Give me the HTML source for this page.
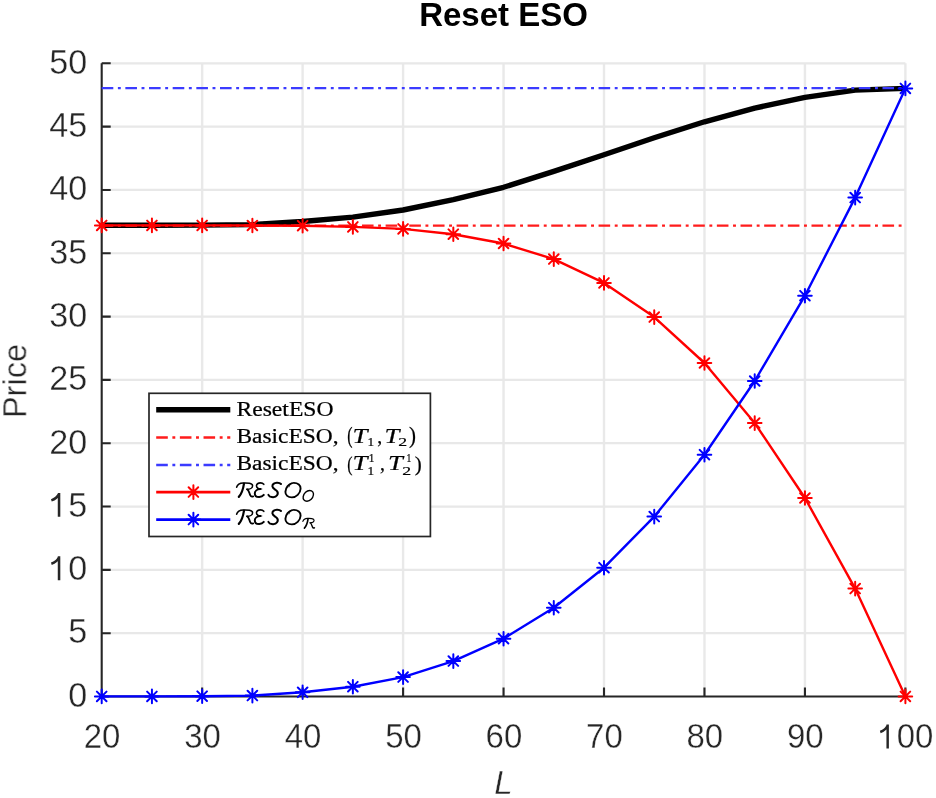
<!DOCTYPE html>
<html><head><meta charset="utf-8"><style>
html,body{margin:0;padding:0;background:#fff;}
svg{display:block;}
</style></head><body>
<svg width="936" height="798" viewBox="0 0 936 798">
<defs><filter id="bl" x="0" y="0" width="1" height="1"><feGaussianBlur stdDeviation="0.45"/></filter></defs>
<g filter="url(#bl)">
<rect width="936" height="798" fill="#fff"/>
<path d="M202.16,63.30V696.50M302.62,63.30V696.50M403.09,63.30V696.50M503.55,63.30V696.50M604.01,63.30V696.50M704.47,63.30V696.50M804.94,63.30V696.50M905.40,63.30V696.50" stroke="#e9e9e9" stroke-width="2.4" fill="none"/>
<path d="M101.70,633.18H905.40M101.70,569.86H905.40M101.70,506.54H905.40M101.70,443.22H905.40M101.70,379.90H905.40M101.70,316.58H905.40M101.70,253.26H905.40M101.70,189.94H905.40M101.70,126.62H905.40M101.70,63.30H905.40" stroke="#e8e8e8" stroke-width="2.2" fill="none"/>
<path d="M101.70,63.30V696.50H905.40M101.70,696.50v-9M202.16,696.50v-9M302.62,696.50v-9M403.09,696.50v-9M503.55,696.50v-9M604.01,696.50v-9M704.47,696.50v-9M804.94,696.50v-9M905.40,696.50v-9M101.70,696.50h9M101.70,633.18h9M101.70,569.86h9M101.70,506.54h9M101.70,443.22h9M101.70,379.90h9M101.70,316.58h9M101.70,253.26h9M101.70,189.94h9M101.70,126.62h9M101.70,63.30h9" stroke="#262626" stroke-width="2.1" fill="none"/>
<polyline points="101.70,225.30 151.93,225.30 202.16,225.10 252.39,224.60 302.62,221.50 352.86,217.10 403.09,210.00 453.32,199.70 503.55,187.30 553.78,171.40 604.01,154.80 654.24,137.70 704.47,121.80 754.71,108.10 804.94,97.40 855.17,90.10 905.40,88.40" stroke="#000" stroke-width="5.4" fill="none" stroke-linejoin="round"/>
<path d="M101.70,225.53H905.40" stroke="#ff1a1a" stroke-width="2.3" stroke-dasharray="11.6 4.58 2.9 4.58" fill="none"/>
<path d="M101.70,88.12H905.40" stroke="#3a3aff" stroke-width="2.3" stroke-dasharray="11.6 4.58 2.9 4.58" fill="none"/>
<polyline points="101.70,225.40 151.93,225.40 202.16,225.40 252.39,225.50 302.62,225.70 352.86,226.90 403.09,228.90 453.32,234.20 503.55,243.50 553.78,259.10 604.01,282.90 654.24,317.10 704.47,363.00 754.71,423.10 804.94,498.00 855.17,588.60 905.40,696.40" stroke="#ff0000" stroke-width="2.4" fill="none" stroke-linejoin="round"/>
<path d="M94.90,225.40h13.6M101.70,218.60v13.6M96.90,220.60l9.6,9.6M96.90,230.20l9.6,-9.6M145.13,225.40h13.6M151.93,218.60v13.6M147.13,220.60l9.6,9.6M147.13,230.20l9.6,-9.6M195.36,225.40h13.6M202.16,218.60v13.6M197.36,220.60l9.6,9.6M197.36,230.20l9.6,-9.6M245.59,225.50h13.6M252.39,218.70v13.6M247.59,220.70l9.6,9.6M247.59,230.30l9.6,-9.6M295.82,225.70h13.6M302.62,218.90v13.6M297.82,220.90l9.6,9.6M297.82,230.50l9.6,-9.6M346.06,226.90h13.6M352.86,220.10v13.6M348.06,222.10l9.6,9.6M348.06,231.70l9.6,-9.6M396.29,228.90h13.6M403.09,222.10v13.6M398.29,224.10l9.6,9.6M398.29,233.70l9.6,-9.6M446.52,234.20h13.6M453.32,227.40v13.6M448.52,229.40l9.6,9.6M448.52,239.00l9.6,-9.6M496.75,243.50h13.6M503.55,236.70v13.6M498.75,238.70l9.6,9.6M498.75,248.30l9.6,-9.6M546.98,259.10h13.6M553.78,252.30v13.6M548.98,254.30l9.6,9.6M548.98,263.90l9.6,-9.6M597.21,282.90h13.6M604.01,276.10v13.6M599.21,278.10l9.6,9.6M599.21,287.70l9.6,-9.6M647.44,317.10h13.6M654.24,310.30v13.6M649.44,312.30l9.6,9.6M649.44,321.90l9.6,-9.6M697.67,363.00h13.6M704.47,356.20v13.6M699.67,358.20l9.6,9.6M699.67,367.80l9.6,-9.6M747.91,423.10h13.6M754.71,416.30v13.6M749.91,418.30l9.6,9.6M749.91,427.90l9.6,-9.6M798.14,498.00h13.6M804.94,491.20v13.6M800.14,493.20l9.6,9.6M800.14,502.80l9.6,-9.6M848.37,588.60h13.6M855.17,581.80v13.6M850.37,583.80l9.6,9.6M850.37,593.40l9.6,-9.6M898.60,696.40h13.6M905.40,689.60v13.6M900.60,691.60l9.6,9.6M900.60,701.20l9.6,-9.6" stroke="#ff0000" stroke-width="2.0" stroke-linecap="round" fill="none"/>
<polyline points="101.70,696.40 151.93,696.40 202.16,696.20 252.39,695.60 302.62,692.30 352.86,686.70 403.09,677.10 453.32,661.10 503.55,638.70 553.78,607.70 604.01,567.70 654.24,516.60 704.47,454.70 754.71,381.00 804.94,295.70 855.17,197.60 905.40,88.40" stroke="#0000ff" stroke-width="2.4" fill="none" stroke-linejoin="round"/>
<path d="M94.90,696.40h13.6M101.70,689.60v13.6M96.90,691.60l9.6,9.6M96.90,701.20l9.6,-9.6M145.13,696.40h13.6M151.93,689.60v13.6M147.13,691.60l9.6,9.6M147.13,701.20l9.6,-9.6M195.36,696.20h13.6M202.16,689.40v13.6M197.36,691.40l9.6,9.6M197.36,701.00l9.6,-9.6M245.59,695.60h13.6M252.39,688.80v13.6M247.59,690.80l9.6,9.6M247.59,700.40l9.6,-9.6M295.82,692.30h13.6M302.62,685.50v13.6M297.82,687.50l9.6,9.6M297.82,697.10l9.6,-9.6M346.06,686.70h13.6M352.86,679.90v13.6M348.06,681.90l9.6,9.6M348.06,691.50l9.6,-9.6M396.29,677.10h13.6M403.09,670.30v13.6M398.29,672.30l9.6,9.6M398.29,681.90l9.6,-9.6M446.52,661.10h13.6M453.32,654.30v13.6M448.52,656.30l9.6,9.6M448.52,665.90l9.6,-9.6M496.75,638.70h13.6M503.55,631.90v13.6M498.75,633.90l9.6,9.6M498.75,643.50l9.6,-9.6M546.98,607.70h13.6M553.78,600.90v13.6M548.98,602.90l9.6,9.6M548.98,612.50l9.6,-9.6M597.21,567.70h13.6M604.01,560.90v13.6M599.21,562.90l9.6,9.6M599.21,572.50l9.6,-9.6M647.44,516.60h13.6M654.24,509.80v13.6M649.44,511.80l9.6,9.6M649.44,521.40l9.6,-9.6M697.67,454.70h13.6M704.47,447.90v13.6M699.67,449.90l9.6,9.6M699.67,459.50l9.6,-9.6M747.91,381.00h13.6M754.71,374.20v13.6M749.91,376.20l9.6,9.6M749.91,385.80l9.6,-9.6M798.14,295.70h13.6M804.94,288.90v13.6M800.14,290.90l9.6,9.6M800.14,300.50l9.6,-9.6M848.37,197.60h13.6M855.17,190.80v13.6M850.37,192.80l9.6,9.6M850.37,202.40l9.6,-9.6M898.60,88.40h13.6M905.40,81.60v13.6M900.60,83.60l9.6,9.6M900.60,93.20l9.6,-9.6" stroke="#0000ff" stroke-width="2.0" stroke-linecap="round" fill="none"/>
<g font-family="Liberation Sans, sans-serif" font-size="33" fill="#262626" stroke="#fff" stroke-width="0.35"><g transform="translate(102.10,748.40) scale(1.0,1.04)"><text x="-18.35" y="0">2</text><text x="0.00" y="0">0</text></g><g transform="translate(202.56,748.40) scale(1.0,1.04)"><text x="-18.35" y="0">3</text><text x="0.00" y="0">0</text></g><g transform="translate(303.02,748.40) scale(1.0,1.04)"><text x="-18.35" y="0">4</text><text x="0.00" y="0">0</text></g><g transform="translate(403.49,748.40) scale(1.0,1.04)"><text x="-18.35" y="0">5</text><text x="0.00" y="0">0</text></g><g transform="translate(503.95,748.40) scale(1.0,1.04)"><text x="-18.35" y="0">6</text><text x="0.00" y="0">0</text></g><g transform="translate(604.41,748.40) scale(1.0,1.04)"><text x="-18.35" y="0">7</text><text x="0.00" y="0">0</text></g><g transform="translate(704.87,748.40) scale(1.0,1.04)"><text x="-18.35" y="0">8</text><text x="0.00" y="0">0</text></g><g transform="translate(805.34,748.40) scale(1.0,1.04)"><text x="-18.35" y="0">9</text><text x="0.00" y="0">0</text></g><g transform="translate(905.80,748.40) scale(1.0,1.04)"><text x="-9.18" y="0">0</text><text x="9.18" y="0">0</text><path d="M-18.13,0.00V-22.93M-17.96,-22.28Q-20.27,-17.49 -25.55,-15.84" stroke="#262626" stroke-width="2.45" fill="none"/></g><g transform="translate(87.30,706.80) scale(1.035,1.04)"><text x="-18.35" y="0">0</text></g><g transform="translate(87.30,643.48) scale(1.035,1.04)"><text x="-18.35" y="0">5</text></g><g transform="translate(87.30,580.16) scale(1.035,1.04)"><text x="-18.35" y="0">0</text><path d="M-27.30,0.00V-22.93M-27.14,-22.28Q-29.45,-17.49 -34.73,-15.84" stroke="#262626" stroke-width="2.45" fill="none"/></g><g transform="translate(87.30,516.84) scale(1.035,1.04)"><text x="-18.35" y="0">5</text><path d="M-27.30,0.00V-22.93M-27.14,-22.28Q-29.45,-17.49 -34.73,-15.84" stroke="#262626" stroke-width="2.45" fill="none"/></g><g transform="translate(87.30,453.52) scale(1.035,1.04)"><text x="-36.71" y="0">2</text><text x="-18.35" y="0">0</text></g><g transform="translate(87.30,390.20) scale(1.035,1.04)"><text x="-36.71" y="0">2</text><text x="-18.35" y="0">5</text></g><g transform="translate(87.30,326.88) scale(1.035,1.04)"><text x="-36.71" y="0">3</text><text x="-18.35" y="0">0</text></g><g transform="translate(87.30,263.56) scale(1.035,1.04)"><text x="-36.71" y="0">3</text><text x="-18.35" y="0">5</text></g><g transform="translate(87.30,200.24) scale(1.035,1.04)"><text x="-36.71" y="0">4</text><text x="-18.35" y="0">0</text></g><g transform="translate(87.30,136.92) scale(1.035,1.04)"><text x="-36.71" y="0">4</text><text x="-18.35" y="0">5</text></g><g transform="translate(87.30,73.60) scale(1.035,1.04)"><text x="-36.71" y="0">5</text><text x="-18.35" y="0">0</text></g></g>
<text x="503.5" y="793.7" text-anchor="middle" font-family="Liberation Sans, sans-serif" font-style="italic" font-size="33" fill="#262626" stroke="#fff" stroke-width="0.35">L</text>
<text transform="translate(26.3,381) rotate(-90)" text-anchor="middle" font-family="Liberation Sans, sans-serif" font-size="32.6" fill="#262626" stroke="#fff" stroke-width="0.35">Price</text>
<text x="503.5" y="26" text-anchor="middle" font-family="Liberation Sans, sans-serif" font-weight="bold" font-size="33" fill="#000">Reset ESO</text>
<rect x="149.0" y="393.3" width="281.4" height="143.2" fill="#fff" stroke="#262626" stroke-width="1.7"/>
<path d="M156.2,409.8H230.3" stroke="#000" stroke-width="5.4"/>
<path d="M156.2,437.5H230.3" stroke="#ff1a1a" stroke-width="2.4" stroke-dasharray="11.6 4.58 2.9 4.58"/>
<path d="M156.2,465.0H230.3" stroke="#3a3aff" stroke-width="2.4" stroke-dasharray="11.6 4.58 2.9 4.58"/>
<path d="M156.2,492.1H230.3" stroke="#ff0000" stroke-width="2.6" fill="none"/><path d="M186.60,492.10h13.6M193.40,485.30v13.6M188.60,487.30l9.6,9.6M188.60,496.90l9.6,-9.6" stroke="#ff0000" stroke-width="2.0" stroke-linecap="round" fill="none"/>
<path d="M156.2,519.6H230.3" stroke="#0000ff" stroke-width="2.6" fill="none"/><path d="M186.60,519.60h13.6M193.40,512.80v13.6M188.60,514.80l9.6,9.6M188.60,524.40l9.6,-9.6" stroke="#0000ff" stroke-width="2.0" stroke-linecap="round" fill="none"/>
<g font-family="Liberation Serif, serif" fill="#000" stroke="#000" stroke-width="0.22"><text transform="translate(236.41,415.70) scale(1.153,1.000)" font-size="20.5">ResetESO</text><text transform="translate(236.41,443.20) scale(1.143,1.000)" font-size="20.5">BasicESO,</text><text transform="translate(236.41,470.10) scale(1.143,1.000)" font-size="20.5">BasicESO,</text><text transform="translate(347.20,443.03) scale(0.774,1.108)" font-size="20.5">(</text><text transform="translate(352.60,443.20) scale(1.310,1.000)" font-size="20.5" font-style="italic">T</text><text transform="translate(367.38,446.00) scale(1.022,1.000)" font-size="13">1</text><text transform="translate(377.13,443.20) scale(0.967,1.000)" font-size="20.5">,</text><text transform="translate(384.41,443.20) scale(1.301,1.000)" font-size="20.5" font-style="italic">T</text><text transform="translate(398.18,446.00) scale(1.365,1.000)" font-size="13">2</text><text transform="translate(408.89,443.03) scale(1.019,1.108)" font-size="20.5">)</text><text transform="translate(347.20,470.79) scale(0.774,1.070)" font-size="20.5">(</text><text transform="translate(352.60,470.10) scale(1.310,1.000)" font-size="20.5" font-style="italic">T</text><text transform="translate(368.74,461.70) scale(0.870,1.000)" font-size="13">1</text><text transform="translate(367.38,475.20) scale(1.022,1.000)" font-size="13">1</text><text transform="translate(380.03,470.10) scale(0.967,1.000)" font-size="20.5">,</text><text transform="translate(387.91,470.10) scale(1.301,1.000)" font-size="20.5" font-style="italic">T</text><text transform="translate(406.49,461.70) scale(0.739,1.000)" font-size="13">1</text><text transform="translate(402.28,475.20) scale(1.365,1.000)" font-size="13">2</text><text transform="translate(414.79,470.79) scale(1.019,1.070)" font-size="20.5">)</text></g>
<g fill="none" stroke="#000" stroke-linecap="round" stroke-linejoin="round"><g transform="translate(236.2,497.3)"><path d="M0.4,-10.0C1.2,-12.8 3.5,-14.2 7,-14.3C11,-14.5 16.4,-14.2 16.4,-11.6C16.4,-9.2 13.5,-8.0 10.8,-8.0" stroke-width="1.5"/><path d="M7.8,-13.6C7.0,-8.5 5.2,-3.0 2.6,-0.4" stroke-width="2.2"/><path d="M10.8,-8.0C12.6,-7.6 13.0,-4.5 14.0,-2.2C14.6,-0.8 15.8,-0.4 17.0,-0.9" stroke-width="1.8"/><path d="M27.6,-13.0C26.5,-14.3 24.5,-14.6 22.6,-14.2C20.6,-13.7 19.8,-11.8 20.6,-10.2C21.2,-9.0 22.5,-8.3 24.0,-8.2" stroke-width="1.6"/><path d="M24.0,-8.2C21.0,-8.0 18.5,-6.2 18.6,-3.8C18.7,-1.4 20.5,-0.1 23.0,-0.2C25.0,-0.3 26.6,-1.2 27.6,-2.4" stroke-width="2.0"/><path d="M22.5,-8.2L25.6,-8.3" stroke-width="1.0"/><path d="M44.8,-13.3C43.9,-14.3 42.4,-14.7 40.6,-14.6C37.9,-14.4 36.0,-12.9 36.2,-10.9C36.4,-8.9 38.8,-8.0 40.4,-6.6C41.8,-5.4 41.8,-3.5 40.9,-2.0C39.9,-0.4 37.7,0.1 35.5,-0.2C33.9,-0.4 32.8,-1.2 32.2,-2.4" stroke-width="2.0"/><path d="M57.5,-14.4C61.8,-14.4 64.6,-12.2 64.4,-8.6C64.1,-3.8 60.0,0.1 55.6,0.1C51.8,0.1 49.1,-2.2 49.2,-5.4C49.4,-9.8 52.6,-13.3 56.0,-14.1" stroke-width="1.9"/><path d="M55.5,-14.0C54.0,-12.8 53.0,-11.5 52.8,-10.4" stroke-width="0.9"/><path d="M73.5,-6.8C76.3,-6.8 77.6,-4.8 77.2,-2.3C76.7,1.0 74.0,3.9 70.8,3.9C68.0,3.9 66.6,1.8 67.0,-0.6C67.6,-4.2 70.5,-6.8 73.5,-6.8" stroke-width="1.4"/></g><g transform="translate(236.2,524.3)"><path d="M0.4,-10.0C1.2,-12.8 3.5,-14.2 7,-14.3C11,-14.5 16.4,-14.2 16.4,-11.6C16.4,-9.2 13.5,-8.0 10.8,-8.0" stroke-width="1.5"/><path d="M7.8,-13.6C7.0,-8.5 5.2,-3.0 2.6,-0.4" stroke-width="2.2"/><path d="M10.8,-8.0C12.6,-7.6 13.0,-4.5 14.0,-2.2C14.6,-0.8 15.8,-0.4 17.0,-0.9" stroke-width="1.8"/><path d="M27.6,-13.0C26.5,-14.3 24.5,-14.6 22.6,-14.2C20.6,-13.7 19.8,-11.8 20.6,-10.2C21.2,-9.0 22.5,-8.3 24.0,-8.2" stroke-width="1.6"/><path d="M24.0,-8.2C21.0,-8.0 18.5,-6.2 18.6,-3.8C18.7,-1.4 20.5,-0.1 23.0,-0.2C25.0,-0.3 26.6,-1.2 27.6,-2.4" stroke-width="2.0"/><path d="M22.5,-8.2L25.6,-8.3" stroke-width="1.0"/><path d="M44.8,-13.3C43.9,-14.3 42.4,-14.7 40.6,-14.6C37.9,-14.4 36.0,-12.9 36.2,-10.9C36.4,-8.9 38.8,-8.0 40.4,-6.6C41.8,-5.4 41.8,-3.5 40.9,-2.0C39.9,-0.4 37.7,0.1 35.5,-0.2C33.9,-0.4 32.8,-1.2 32.2,-2.4" stroke-width="2.0"/><path d="M57.5,-14.4C61.8,-14.4 64.6,-12.2 64.4,-8.6C64.1,-3.8 60.0,0.1 55.6,0.1C51.8,0.1 49.1,-2.2 49.2,-5.4C49.4,-9.8 52.6,-13.3 56.0,-14.1" stroke-width="1.9"/><path d="M55.5,-14.0C54.0,-12.8 53.0,-11.5 52.8,-10.4" stroke-width="0.9"/><g transform="translate(66.4,4.1) scale(0.7)"><path d="M0.4,-10.0C1.2,-12.8 3.5,-14.2 7,-14.3C11,-14.5 16.4,-14.2 16.4,-11.6C16.4,-9.2 13.5,-8.0 10.8,-8.0" stroke-width="1.61"/><path d="M7.8,-13.6C7.0,-8.5 5.2,-3.0 2.6,-0.4" stroke-width="2.36"/><path d="M10.8,-8.0C12.6,-7.6 13.0,-4.5 14.0,-2.2C14.6,-0.8 15.8,-0.4 17.0,-0.9" stroke-width="1.93"/></g></g></g>
</g>
</svg>
</body></html>
